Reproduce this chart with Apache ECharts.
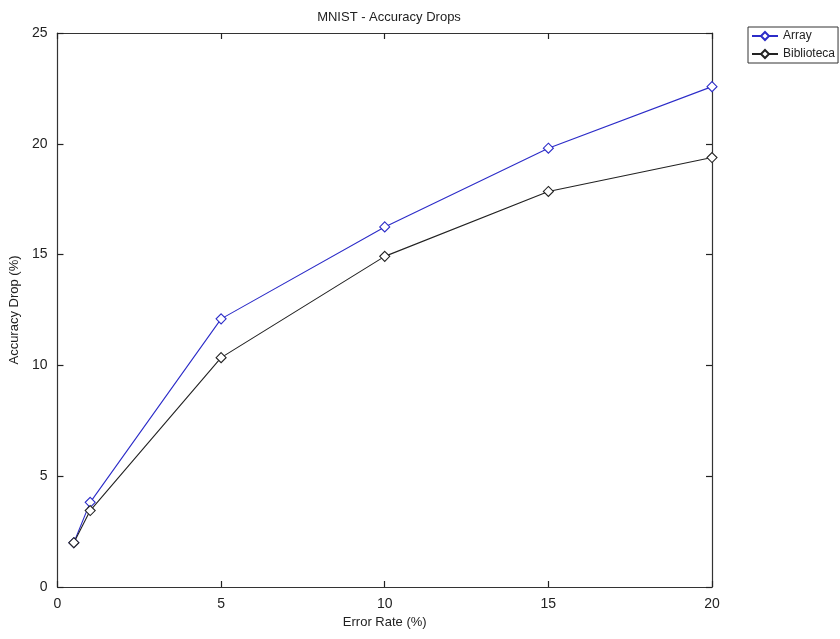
<!DOCTYPE html>
<html>
<head>
<meta charset="utf-8">
<script src="https://cdn.jsdelivr.net/npm/echarts@6/dist/echarts.min.js"></script>
<style>
  html, body { margin: 0; padding: 0; background: #fff; }
  #chart { width: 840px; height: 639px; }
</style>
</head>
<body>
<div id="chart"></div>
<script>
const errorRates = [0.5, 1, 5, 10, 15, 20];
const arrayDrop = [2.0, 3.82, 12.1, 16.25, 19.8, 22.58];
const bibliotecaDrop = [2.0, 3.45, 10.35, 14.92, 17.85, 19.38];
const seriesNames = ['Array', 'Biblioteca'];
const seriesColors = ['#2c2cc8', '#222222'];

const font = 'Liberation Sans, Arial, sans-serif';
const diamond = 'path://M0,-1L1,0L0,1L-1,0Z';

function pairs(ys) {
  return errorRates.map((x, i) => [x, ys[i]]);
}

function makeSeries(name, ys, color) {
  return {
    name: name,
    type: 'line',
    data: pairs(ys),
    symbol: diamond,
    symbolSize: 10,
    showAllSymbol: true,
    lineStyle: { color: color, width: 1.1 },
    itemStyle: { color: '#fff', borderColor: color, borderWidth: 1.1 },
    emphasis: { disabled: true },
    animation: false
  };
}

// each axis gets its own style objects
function axisLine() {
  return { show: true, onZero: false, lineStyle: { color: '#333', width: 1.2 } };
}
function axisTick() {
  return { show: true, inside: true, length: 6, lineStyle: { color: '#222', width: 1.2 } };
}

const chart = echarts.init(document.getElementById('chart'));
chart.setOption({
  backgroundColor: '#fff',
  animation: false,
  title: {
    text: 'MNIST - Accuracy Drops',
    left: 384, top: 6, textAlign: 'center',
    textStyle: { fontFamily: font, fontSize: 13, fontWeight: 'normal', color: '#222' }
  },
  legend: {
    data: seriesNames,
    orient: 'vertical',
    left: 748, top: 27,
    itemWidth: 26, itemHeight: 10, itemGap: 6,
    padding: [3, 3, 3, 3],
    borderColor: '#333', borderWidth: 1,
    textStyle: { fontFamily: font, fontSize: 12, color: '#222' }
  },
  grid: { left: 56, right: 128, top: 33, bottom: 52 },
  xAxis: [
    {
      type: 'value', min: 0, max: 20, interval: 5,
      name: 'Error Rate (%)', nameLocation: 'middle', nameGap: 25,
      nameTextStyle: { fontFamily: font, fontSize: 13, color: '#222' },
      axisLine: axisLine(), axisTick: axisTick(),
      axisLabel: { fontFamily: font, fontSize: 14, color: '#222', margin: 10 },
      splitLine: { show: false }
    },
    {
      type: 'value', min: 0, max: 20, interval: 5, position: 'top',
      axisLine: axisLine(), axisTick: axisTick(),
      axisLabel: { show: false }, splitLine: { show: false }
    }
  ],
  yAxis: [
    {
      type: 'value', min: 0, max: 25, interval: 5,
      name: 'Accuracy Drop (%)', nameLocation: 'middle', nameGap: 30,
      nameTextStyle: { fontFamily: font, fontSize: 13, color: '#222' },
      axisLine: axisLine(), axisTick: axisTick(),
      axisLabel: { fontFamily: font, fontSize: 14, color: '#222', margin: 10 },
      splitLine: { show: false }
    },
    {
      type: 'value', min: 0, max: 25, interval: 5, position: 'right',
      axisLine: axisLine(), axisTick: axisTick(),
      axisLabel: { show: false }, splitLine: { show: false }
    }
  ],
  series: [
    makeSeries(seriesNames[0], arrayDrop, seriesColors[0]),
    makeSeries(seriesNames[1], bibliotecaDrop, seriesColors[1])
  ]
});
</script>
</body>
</html>
